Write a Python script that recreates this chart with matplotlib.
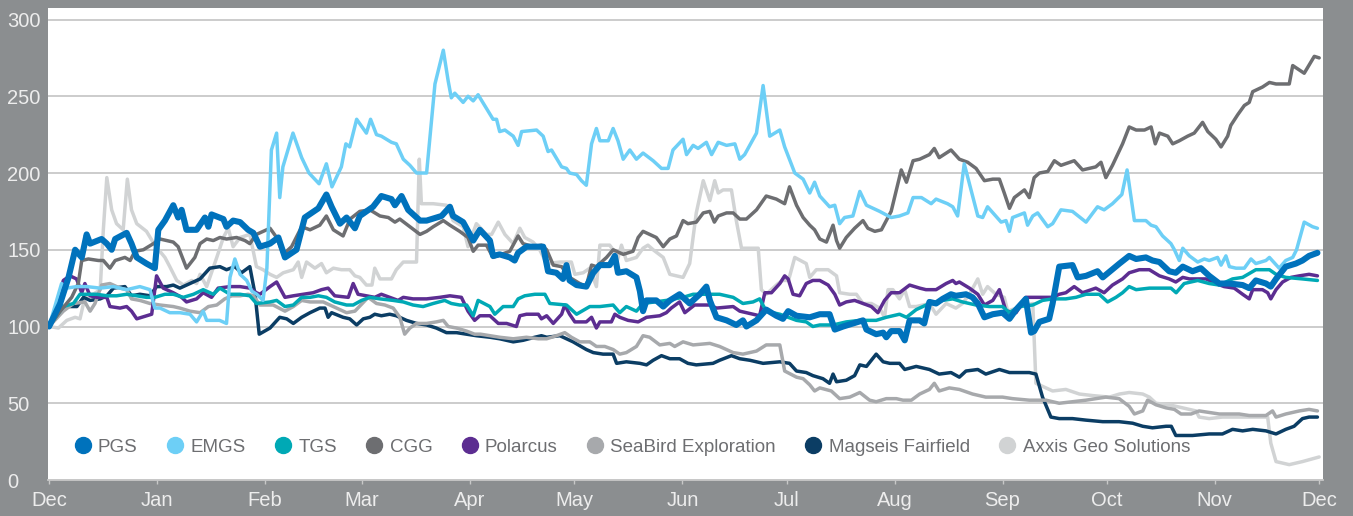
import datetime

import matplotlib.pyplot as plt
import matplotlib.dates as mdates
from matplotlib.lines import Line2D
import numpy as np

# days counted from 1 Dec 2017, values indexed to 100
start = datetime.datetime(2017, 12, 1)

pgs_days = [0, 3.2, 5.6, 7.5, 9.4, 10.8, 11.8, 15.1, 16.6, 18,
            19, 22.3, 23.7, 25.2, 28, 30.4, 31.4, 33.3, 35.7, 37.1,
            38.1, 39.5, 42.4, 44.8, 45.8, 46.7, 50.1, 51, 52.9, 54.9,
            57.2, 58.7, 60.6, 63.5, 65.9, 67.8, 71.1, 73.5, 77.4, 79.7,
            81.2, 83.6, 85.5, 87.9, 89.3, 93.1, 95.5, 98.4, 99.4, 101.3,
            103.2, 106.6, 108.5, 112.8, 115.2, 116.1, 119, 121.9, 123.8, 126.7,
            127.6, 129.5, 132.4, 133.8, 134.8, 137.2, 141, 142, 143.4, 145.8,
            147.7, 148.7, 149.6, 151.6, 154.4, 156.4, 158.3, 161.1, 162.6, 163.5,
            165.9, 168.8, 169.8, 170.7, 171.7, 174.5, 176.5, 178.4, 181.2, 184.1,
            187, 188.9, 189.9, 191.8, 194.7, 197.5, 199.4, 200.4, 203.3, 206.1,
            209, 210.9, 212.4, 214.8, 218.6, 221.5, 224.3, 225.8, 228.2, 231,
            233.9, 234.9, 237.7, 239.7, 240.6, 242, 244.4, 245.9, 247.3, 250.2,
            251.5, 253, 254.9, 256.8, 259.2, 260.6, 263.5, 265.4, 266.9, 268.8,
            271.2, 274, 276, 277.9, 280.7, 282.2, 283.1, 284.6, 287.4, 288.4,
            290.3, 294.1, 295.6, 298, 301.3, 302.8, 307.6, 310.4, 312.4, 315.2,
            317.1, 319.1, 321.9, 323.8, 325.8, 328.6, 331, 333.4, 336.3, 339.2,
            343, 344.9, 346.8, 349.7, 351.1, 352.6, 355.4, 358.3, 360.2, 362.1,
            364.5]
pgs_vals = [100, 115, 132, 150, 145, 160, 154, 157, 154, 150,
            157, 161, 154, 145, 141, 138, 163, 169, 179, 171,
            176, 163, 163, 171, 165, 173, 170, 165, 169, 168,
            163, 161, 152, 154, 158, 145, 150, 171, 177, 186,
            178, 167, 171, 164, 172, 178, 185, 183, 179, 185,
            176, 169, 169, 172, 178, 172, 168, 156, 163, 156,
            146, 147, 145, 143, 148, 152, 152, 152, 136, 135,
            131, 140, 130, 127, 126, 135, 140, 140, 146, 135,
            136, 132, 123, 110, 117, 117, 113, 117, 121, 115,
            121, 126, 117, 106, 104, 101, 104, 100, 104, 111,
            107, 105, 110, 107, 106, 108, 108, 98, 100, 102,
            104, 98, 95, 96, 93, 97, 97, 91, 104, 104,
            102, 116, 115, 118, 121, 120, 121, 119, 115, 106,
            108, 109, 105, 111, 118, 96, 97, 103, 105, 115,
            139, 140, 132, 133, 136, 132, 141, 146, 144, 145,
            143, 142, 136, 135, 139, 136, 138, 133, 128, 128,
            127, 125, 130, 128, 126, 131, 139, 141, 143, 146,
            148]

emgs_days = [0, 3.6, 5.1, 7.9, 10.8, 14.7, 18.5, 22.3, 26.1, 29,
             30.4, 31.9, 34.7, 37.6, 40.5, 42.4, 44.3, 45.3, 49, 51,
             52, 53.4, 54.9, 56.8, 58.3, 59.7, 61.5, 62.6, 63.9, 65.4,
             66.3, 67.2, 70.1, 72.6, 74.7, 77.6, 79.7, 81.3, 84, 85.3,
             86.4, 88.4, 91.2, 92.4, 94.1, 95.5, 98.4, 99.8, 101.8, 103.7,
             105.6, 108.5, 110.9, 113.3, 114.7, 115.6, 116.6, 119, 120.4, 121.9,
             123.3, 125.7, 127.6, 128.6, 129.5, 131, 133.4, 134.8, 135.8, 140.1,
             142, 143.4, 144.4, 147.3, 148.7, 149.6, 151.6, 153, 154.4, 155.9,
             157.3, 158.3, 160.7, 162.1, 163.5, 165, 166.9, 168.8, 170.7, 173.6,
             176, 177.9, 179.3, 182.2, 183.2, 185.1, 186.5, 188.9, 190.4, 192.3,
             194.7, 197.1, 198.5, 199.9, 203.3, 205.2, 207.1, 210, 211.4, 214.3,
             216.7, 218.6, 220, 221.5, 224.3, 225.8, 227.2, 228.6, 231, 233,
             234.9, 238.7, 242, 244.4, 246.8, 248.3, 250.7, 253.5, 254.9, 258.2,
             259.7, 261.1, 263, 264.5, 266.9, 268.3, 269.7, 273.6, 275, 276,
             276.9, 280.3, 281.2, 282.7, 284.1, 287, 288.4, 290.8, 294.1, 298,
             301.3, 303.2, 305.6, 308.3, 309.8, 311.9, 315.2, 316.7, 318.1, 320,
             322.4, 323.4, 324.8, 325.8, 327.7, 330.1, 332, 333.4, 335.8, 336.8,
             338.2, 339.2, 341.1, 343.5, 345.4, 346.8, 349.7, 350.7, 353.5, 355.4,
             357.4, 358.5, 360.7, 363.1, 364.5]
emgs_vals = [100, 128, 125, 126, 126, 125, 126, 124, 126, 124,
             112, 112, 109, 109, 108, 103, 110, 104, 104, 102,
             132, 144, 134, 130, 123, 121, 117, 138, 215, 226,
             184, 204, 226, 210, 200, 193, 206, 191, 204, 219,
             217, 235, 226, 235, 225, 224, 220, 219, 209, 205,
             200, 200, 258, 280, 260, 249, 252, 246, 250, 247,
             251, 242, 235, 235, 227, 228, 224, 218, 227, 228,
             224, 214, 215, 204, 203, 200, 199, 195, 192, 219,
             229, 221, 221, 229, 221, 209, 215, 209, 213, 208,
             203, 203, 215, 222, 212, 218, 216, 220, 212, 220,
             218, 219, 209, 212, 226, 257, 224, 228, 217, 200,
             196, 187, 194, 185, 178, 179, 167, 171, 172, 188,
             179, 175, 171, 172, 174, 184, 184, 180, 183, 180,
             178, 172, 206, 193, 172, 171, 178, 168, 169, 162,
             171, 174, 166, 172, 174, 165, 167, 176, 175, 168,
             178, 176, 180, 186, 202, 169, 169, 166, 165, 159,
             154, 150, 143, 151, 146, 142, 144, 143, 145, 140,
             146, 139, 138, 138, 144, 141, 143, 145, 138, 143,
             145, 150, 168, 165, 164]

tgs_days = [0, 4.1, 7, 8.9, 10.8, 13.7, 16.6, 19.4, 22.3, 25.2,
            28, 30.4, 33.3, 35.7, 38.6, 41.5, 44.3, 47.2, 49.1, 52,
            54.9, 57.7, 59.6, 63.5, 65.4, 67.8, 70.2, 72.6, 75, 77.4,
            79.7, 82.1, 85.5, 87.4, 89.8, 92.2, 95.1, 98.9, 101.8, 104.6,
            107.5, 110.4, 113.7, 115.6, 118, 120, 121.9, 123.3, 126.7, 128.1,
            130.5, 133.4, 134.8, 136.7, 139.6, 142.5, 143.9, 148.7, 151.6, 155.4,
            158.3, 162.1, 164, 165.9, 168.8, 170.7, 177.4, 182.2, 185.1, 189.9,
            192.7, 196.6, 199.4, 202.3, 204.2, 206.1, 210, 214.8, 217.6, 219.5,
            221.5, 225.3, 229.1, 233, 237.7, 240.6, 244.4, 246.4, 249.2, 253,
            256.8, 259.7, 262.5, 266.4, 270.2, 274, 276, 278.8, 282.7, 285.5,
            288.4, 292.2, 295.1, 298, 301.8, 304.2, 306.6, 308.5, 310.4, 312.4,
            316.2, 319.1, 322.4, 323.9, 326.2, 330.1, 333.4, 336.3, 340.1, 343,
            346.8, 350.7, 352.6, 355.4, 360.2, 364.5]
tgs_vals = [100, 113, 115, 121, 121, 121, 120, 120, 121, 120,
            119, 119, 121, 121, 119, 121, 124, 121, 125, 121,
            121, 120, 115, 116, 117, 113, 114, 119, 119, 120,
            119, 116, 114, 114, 117, 119, 118, 117, 116, 114,
            113, 115, 117, 115, 114, 114, 107, 117, 113, 108,
            113, 113, 118, 120, 121, 121, 115, 114, 108, 113,
            113, 114, 109, 113, 110, 115, 117, 119, 121, 121,
            121, 119, 115, 116, 118, 110, 108, 104, 103, 100,
            101, 101, 103, 104, 104, 106, 108, 106, 111, 115,
            117, 118, 116, 114, 113, 113, 109, 113, 114, 117,
            118, 118, 119, 121, 121, 116, 119, 122, 126, 124,
            125, 125, 125, 122, 128, 130, 128, 127, 131, 132,
            137, 137, 134, 132, 131, 130]

cgg_days = [0, 3.2, 6.5, 8.4, 9.4, 11.3, 14.2, 15.6, 17.5, 19,
            21.8, 23.3, 24.7, 27.1, 30, 31.9, 33.8, 35.7, 37.1, 39.5,
            41.9, 43.4, 45.3, 47.2, 49.1, 51, 53.9, 56.3, 57.7, 59.6,
            63.5, 65.4, 67.3, 69.7, 72.6, 75, 77.8, 79.7, 81.7, 84.5,
            86.5, 89.3, 92.2, 95.1, 97.5, 99.4, 100.8, 103.7, 106.6, 108.5,
            110.4, 113.3, 115.2, 118, 120.4, 121.9, 123.3, 125.7, 127.6, 132.4,
            134.8, 136.2, 139.1, 141.5, 143, 144.9, 147.3, 149.6, 152.5, 154.4,
            155.9, 157.3, 160.2, 162.1, 165, 167.8, 169.3, 170.7, 172.6, 174.5,
            176.5, 178.4, 180.3, 182.2, 183.6, 186, 188, 189.9, 191.2, 192.3,
            194.7, 196.6, 198.5, 200.4, 203.3, 206.1, 209, 211.4, 212.8, 214.8,
            216.7, 218.6, 220, 221.5, 223.4, 225.3, 226.3, 227.2, 229.1, 231.5,
            233.9, 235.3, 237.3, 239.2, 242, 244.9, 246.4, 248.3, 250.2, 253,
            254.4, 255.8, 259.2, 261.6, 264, 266.4, 268.8, 271.2, 273.1, 274.5,
            276, 277.4, 280.3, 281.7, 283.1, 284.6, 287, 288.9, 290.8, 294.6,
            297, 300.8, 302.3, 303.7, 305.6, 308.5, 310.4, 312.4, 314.8, 316.7,
            317.9, 319.1, 321.5, 322.9, 324.8, 327.2, 329.1, 331.5, 333, 335.3,
            336.8, 338.7, 339.6, 341.6, 343.5, 344.9, 345.9, 348.7, 350.7, 352.6,
            356.4, 357.4, 360.7, 363.6, 365]
cgg_vals = [100, 110, 119, 128, 143, 144, 143, 143, 138, 143,
            145, 143, 149, 150, 154, 157, 156, 155, 152, 138,
            145, 154, 157, 156, 158, 157, 158, 156, 154, 160,
            164, 158, 147, 152, 165, 163, 166, 172, 163, 159,
            170, 175, 176, 172, 171, 168, 170, 165, 160, 162,
            165, 169, 166, 162, 158, 149, 153, 153, 145, 149,
            159, 154, 152, 153, 150, 140, 139, 132, 128, 126,
            140, 139, 145, 150, 147, 149, 158, 162, 160, 158,
            152, 157, 159, 169, 167, 168, 174, 175, 168, 172,
            174, 174, 170, 170, 176, 185, 183, 180, 191, 179,
            171, 166, 163, 157, 155, 166, 156, 151, 158, 164,
            169, 164, 162, 163, 175, 202, 194, 208, 209, 212,
            216, 210, 215, 209, 207, 203, 195, 196, 196, 187,
            177, 184, 189, 184, 197, 200, 201, 208, 205, 208,
            202, 204, 207, 197, 205, 219, 230, 228, 228, 230,
            219, 226, 224, 219, 221, 224, 226, 233, 227, 222,
            217, 224, 231, 238, 244, 246, 253, 256, 259, 258,
            258, 270, 265, 276, 275]

polarcus_days = [0, 2.2, 4.1, 6, 7.9, 9.4, 10.3, 11.8, 13.7, 16.6,
                 17.5, 20.4, 22.3, 23.7, 25.2, 28, 29.5, 30.9, 32.8, 35.7,
                 38.1, 39.5, 42.4, 44.3, 46.7, 48.6, 52, 54.9, 57.7, 59.6,
                 60.6, 63.5, 65.4, 67.8, 70.2, 73, 75.9, 78.3, 80.2, 82.1,
                 86, 87.4, 88.8, 91.2, 93.6, 95.5, 97.9, 100.3, 101.8, 104.6,
                 108.5, 112.3, 115.2, 118.5, 120.4, 122.3, 123.8, 126.7, 129.1, 131.5,
                 134.3, 135.3, 137.2, 140.6, 141.5, 143, 144.9, 147.3, 148.2, 149.6,
                 151.1, 154.4, 155.9, 157.3, 158.3, 161.6, 162.6, 164, 166.4, 169.3,
                 171.7, 175.5, 177.4, 178.8, 181.2, 182.7, 185.5, 189.9, 191.8, 196.6,
                 198.5, 202.3, 204.2, 205.7, 207.6, 210, 211.4, 212.4, 213.8, 215.7,
                 217.6, 219.5, 221.5, 223.9, 225.8, 227.2, 229.1, 231.5, 233.9, 236.3,
                 238.2, 240.1, 242, 244.4, 247.3, 250.2, 252, 254.9, 257.8, 259.7,
                 260.6, 261.6, 264.5, 266.9, 268.8, 271.2, 273.1, 275, 277.9, 280.7,
                 283.1, 288.4, 290.3, 292.2, 294.6, 297, 300.8, 303.2, 305.6, 308.5,
                 310.4, 313.3, 316.2, 319.1, 321.9, 323.8, 325.8, 327.7, 332.5, 335.3,
                 337.7, 340.6, 343, 344.9, 345.9, 348.7, 350.2, 351.1, 352.6, 354.5,
                 356.9, 359.3, 362.1, 364.5]
polarcus_vals = [100, 112, 130, 133, 131, 122, 128, 120, 119, 119,
                 113, 112, 113, 110, 105, 107, 108, 133, 125, 122,
                 119, 116, 118, 122, 119, 125, 126, 126, 125, 122,
                 121, 126, 129, 119, 120, 121, 122, 124, 125, 120,
                 119, 128, 121, 120, 119, 121, 119, 117, 119, 118,
                 118, 119, 120, 119, 110, 104, 107, 107, 102, 102,
                 100, 107, 108, 108, 105, 107, 102, 108, 114, 108,
                 103, 103, 106, 99, 103, 103, 108, 106, 104, 103,
                 106, 107, 109, 112, 116, 109, 114, 114, 112, 113,
                 110, 108, 107, 122, 122, 128, 133, 131, 121, 120,
                 128, 130, 130, 127, 121, 114, 116, 117, 115, 113,
                 109, 117, 122, 122, 127, 125, 124, 124, 128, 130,
                 128, 129, 125, 121, 114, 117, 124, 110, 109, 119,
                 119, 119, 121, 122, 126, 122, 125, 122, 127, 131,
                 135, 137, 137, 133, 131, 129, 132, 131, 131, 128,
                 126, 125, 121, 118, 124, 124, 122, 118, 124, 129,
                 132, 133, 134, 133]

seabird_days = [0, 4.1, 7, 10.3, 11.8, 13.2, 15.1, 17.5, 20.4, 22.3,
                23.7, 26.1, 29, 31.9, 35.7, 37.6, 40.5, 43.4, 45.8, 48.2,
                50.5, 52.5, 54.9, 57.2, 58.7, 60.6, 64.4, 67.8, 70.2, 72.6,
                75, 78.8, 81.7, 85.5, 87.9, 91.7, 94.1, 96.5, 98.9, 100.8,
                102.2, 103.7, 105.6, 108.5, 111.3, 113.3, 114.7, 117.1, 120, 122.3,
                124, 126.7, 129.5, 133.4, 137.2, 140.6, 143, 145.8, 148.2, 150.1,
                152.5, 155.4, 157.3, 159.7, 162.1, 164, 165.9, 168.8, 170.7, 172.6,
                175.5, 178.4, 179.8, 182.2, 185.1, 189.9, 192.7, 196.6, 199.4, 203.3,
                206.1, 210, 211.4, 214.8, 216.7, 218.6, 220, 221.5, 224.8, 227.2,
                230.1, 233, 235.8, 237.7, 240.6, 243.5, 245.4, 247.8, 250.2, 253,
                254.4, 255.8, 258.7, 261.6, 265.4, 269.2, 274, 276.9, 281.7, 286.5,
                290.3, 294.1, 298, 303.7, 307.5, 310.4, 311.9, 314.3, 315.7, 318.1,
                321, 323.4, 325.3, 328.2, 330.5, 333.4, 336.3, 342, 344.9, 349.7,
                351.6, 352.6, 355.4, 359.3, 362.1, 364.5]
seabird_vals = [100, 110, 115, 116, 110, 115, 127, 128, 125, 124,
                118, 117, 115, 114, 113, 112, 110, 109, 113, 114,
                118, 120, 120, 121, 120, 114, 114, 110, 113, 117,
                116, 116, 113, 109, 110, 119, 115, 114, 112, 106,
                95, 99, 102, 102, 103, 104, 100, 99, 97, 95,
                95, 94, 93, 92, 93, 92, 92, 94, 96, 93,
                90, 90, 87, 87, 85, 82, 83, 87, 94, 93,
                88, 89, 87, 90, 88, 89, 87, 83, 82, 84,
                88, 88, 71, 67, 66, 62, 58, 60, 58, 53,
                54, 57, 52, 51, 53, 53, 52, 52, 56, 59,
                63, 58, 60, 59, 56, 54, 54, 53, 52, 52,
                50, 51, 52, 54, 53, 48, 43, 45, 52, 49,
                47, 46, 43, 43, 45, 44, 43, 43, 42, 42,
                45, 41, 43, 45, 46, 45]

magseis_days = [0, 2.7, 5.1, 8, 9.9, 11.8, 14.7, 16.6, 18.5, 21.8,
                23.7, 26.1, 29, 30.9, 33.8, 35.7, 37.6, 40.5, 43.4, 46.2,
                49.1, 51, 53.4, 55.3, 57.7, 59.2, 60.4, 63.5, 66.3, 68.3,
                70.2, 72.6, 75, 77.8, 79.3, 80.2, 81.2, 84.5, 86.4, 88.4,
                90.3, 92.2, 93.6, 95.5, 97.9, 99.8, 102.7, 105.6, 108.5, 111.3,
                114.2, 117.1, 120, 122.8, 126.7, 129.5, 133.4, 136.2, 139.6, 141.5,
                143, 146.8, 150.6, 154.4, 156.4, 159.2, 162.1, 163.1, 165.9, 169.8,
                171.7, 173.6, 176, 178.4, 181.2, 183.6, 186, 190.8, 192.7, 196.1,
                198.5, 201.4, 205.2, 210, 212.8, 214.8, 217.6, 219.5, 222.4, 224.3,
                225.3, 226.3, 229.1, 231.5, 233, 234.9, 237.7, 239.7, 241.6, 244.4,
                245.9, 249.2, 253, 255.8, 259.2, 261.6, 263.5, 266.9, 269.2, 273.1,
                276, 281.7, 283.6, 285.5, 287.9, 290.3, 294.1, 298, 302.8, 307.5,
                311.4, 314.3, 317.1, 321, 322.5, 323.8, 328.6, 333.4, 337.2, 340.1,
                343, 345.9, 349.7, 352.6, 355.4, 357.8, 360.2, 362.1, 364.5]
magseis_vals = [100, 108, 113, 113, 119, 117, 118, 120, 125, 126,
                120, 121, 120, 126, 126, 127, 125, 128, 131, 138,
                139, 137, 139, 135, 139, 121, 95, 99, 106, 105,
                102, 106, 109, 112, 112, 106, 109, 106, 105, 101,
                105, 106, 108, 107, 108, 107, 104, 102, 101, 99,
                96, 96, 95, 94, 93, 92, 90, 91, 93, 94,
                93, 94, 90, 85, 83, 82, 82, 76, 77, 76,
                75, 78, 81, 79, 79, 76, 75, 76, 78, 81,
                79, 78, 76, 77, 76, 71, 70, 68, 66, 63,
                69, 64, 65, 68, 75, 74, 82, 77, 76, 76,
                72, 74, 72, 69, 70, 67, 71, 72, 69, 72,
                70, 70, 69, 54, 41, 40, 40, 39, 38, 38,
                37, 35, 34, 35, 35, 29, 29, 30, 30, 33,
                32, 33, 32, 30, 33, 35, 40, 41, 41]

axxis_days = [0, 2.7, 5.1, 7.5, 8.9, 10.3, 12.7, 14.7, 15.6, 16.6,
              18, 19.4, 21.3, 22.5, 23.7, 25.2, 28, 30.4, 33.3, 34.7,
              36.7, 38.6, 41, 42.4, 43.4, 45.3, 48.2, 50.1, 51.5, 52.9,
              54.9, 57.7, 59.6, 61.5, 63.5, 65.4, 67.3, 70.2, 71.6, 72.6,
              74, 76.4, 78.3, 79.7, 81.7, 84, 86.4, 87.9, 89.3, 91.2,
              92.8, 93.6, 95.1, 98.4, 99.8, 101.8, 105.6, 106.4, 107, 110.4,
              114.2, 116.1, 119, 120.4, 122.8, 125.7, 127.2, 129.1, 131, 133.4,
              135.3, 136.7, 139.1, 141, 143, 146.8, 150.1, 151.1, 153.5, 155.4,
              157.3, 158.3, 161.1, 162.1, 163.1, 164.5, 165.9, 168.8, 170.7, 172.1,
              173.6, 176.5, 178.4, 182.2, 184.1, 186, 188, 189.9, 191.3, 192.3,
              193.7, 196.1, 197.5, 199, 203.8, 204.7, 206.1, 209.5, 210.9, 212.5,
              214.3, 217.6, 218.6, 220.5, 223.9, 226.3, 227.2, 230.1, 232, 233.9,
              236.3, 238.7, 240.1, 241.1, 242.5, 244.4, 245.9, 247.3, 249.2, 251.1,
              253, 254.9, 257.8, 260.6, 262.5, 264.5, 266.9, 268.3, 269.7, 272.1,
              274.5, 275.5, 278, 282.7, 283.6, 286.5, 288.4, 292.2, 296.1, 299.9,
              304.7, 307.6, 310.4, 314.3, 316.2, 318.1, 321.9, 325.8, 329.6, 330.5,
              333.4, 337.2, 350.2, 351.1, 352.6, 356.4, 360.2, 365]
axxis_vals = [100, 99, 104, 106, 105, 119, 121, 124, 163, 197,
              176, 167, 163, 196, 176, 167, 162, 153, 145, 139,
              130, 127, 130, 128, 134, 126, 145, 158, 164, 152,
              158, 160, 139, 137, 134, 132, 135, 137, 142, 132,
              142, 138, 141, 135, 138, 137, 137, 133, 132, 127,
              127, 138, 131, 131, 137, 142, 142, 209, 180, 180,
              179, 169, 165, 152, 167, 160, 160, 168, 160, 154,
              164, 158, 155, 150, 141, 142, 142, 134, 135, 138,
              126, 153, 153, 150, 141, 153, 143, 145, 151, 153,
              150, 145, 134, 132, 141, 174, 195, 182, 195, 187,
              189, 189, 169, 151, 151, 124, 121, 128, 130, 130,
              145, 141, 132, 137, 137, 133, 122, 121, 121, 115,
              115, 112, 106, 124, 124, 118, 124, 113, 113, 114,
              115, 108, 115, 112, 115, 121, 131, 121, 126, 121,
              119, 110, 112, 115, 63, 60, 58, 59, 56, 55,
              54, 56, 57, 56, 54, 50, 49, 47, 45, 41,
              40, 41, 41, 24, 12, 10, 12, 15]

names = ['PGS', 'EMGS', 'TGS', 'CGG', 'Polarcus', 'SeaBird Exploration',
         'Magseis Fairfield', 'Axxis Geo Solutions']
colors = ['#0072bc', '#6dcff6', '#00a9b5', '#6d6e71', '#5c2d91', '#a7a9ac',
          '#0b3d64', '#d1d3d4']
series = [(pgs_days, pgs_vals), (emgs_days, emgs_vals), (tgs_days, tgs_vals),
          (cgg_days, cgg_vals), (polarcus_days, polarcus_vals),
          (seabird_days, seabird_vals), (magseis_days, magseis_vals),
          (axxis_days, axxis_vals)]
zorders = [10, 8, 6, 7, 5, 4, 3, 2]

bg = '#8b8e90'
font = ['Liberation Sans', 'DejaVu Sans']

fig = plt.figure(figsize=(13.53, 5.16), dpi=100, facecolor=bg)
ax = fig.add_axes([48 / 1353, 36 / 516, 1275 / 1353, 472 / 516])
ax.set_facecolor('white')

x0 = mdates.date2num(start)
for (d, v), c, z, n in zip(series, colors, zorders, names):
    lw = 4.4 if n == 'PGS' else 2.5
    ax.plot(x0 + np.array(d), v, color=c, lw=lw, zorder=z,
            solid_joinstyle='round', solid_capstyle='round')

ax.set_xlim(x0 - 0.3, x0 + 366.1)
ax.set_ylim(0, 307.5)

ax.set_yticks(range(0, 301, 50))
ax.yaxis.grid(True, color='#c8c8c8', lw=1.3, zorder=0)
ax.set_axisbelow(True)
for s in ['left', 'right', 'top']:
    ax.spines[s].set_visible(False)
ax.spines['bottom'].set_color('#c8c8c8')
ax.spines['bottom'].set_linewidth(1.3)

ax.xaxis.set_major_locator(mdates.MonthLocator())
ax.xaxis.set_major_formatter(mdates.DateFormatter('%b'))
ax.tick_params(axis='x', length=3, width=1, color='#c8c8c8', pad=5,
               labelcolor='#ededed', labelsize=14.5)
ax.tick_params(axis='y', length=0, pad=29.5, labelcolor='#ededed',
               labelsize=14.5)
for lab in ax.get_yticklabels():
    lab.set_horizontalalignment('left')
    lab.set_family(font)
for lab in ax.get_xticklabels():
    lab.set_family(font)

handles = [Line2D([], [], ls='none', marker='o', markersize=11.5,
                  markerfacecolor=c, markeredgecolor=c) for c in colors]
leg = ax.legend(handles, names, loc='center left',
                bbox_to_anchor=(27 / 1275, 0.069), ncol=8, frameon=False,
                borderpad=0, borderaxespad=0, handlelength=0.8,
                handletextpad=0.42, columnspacing=1.59,
                prop={'family': font, 'size': 13.5})
for t in leg.get_texts():
    t.set_color('#6d6e71')
leg.set_zorder(20)

fig.savefig('out.png', dpi=100, facecolor=bg)
